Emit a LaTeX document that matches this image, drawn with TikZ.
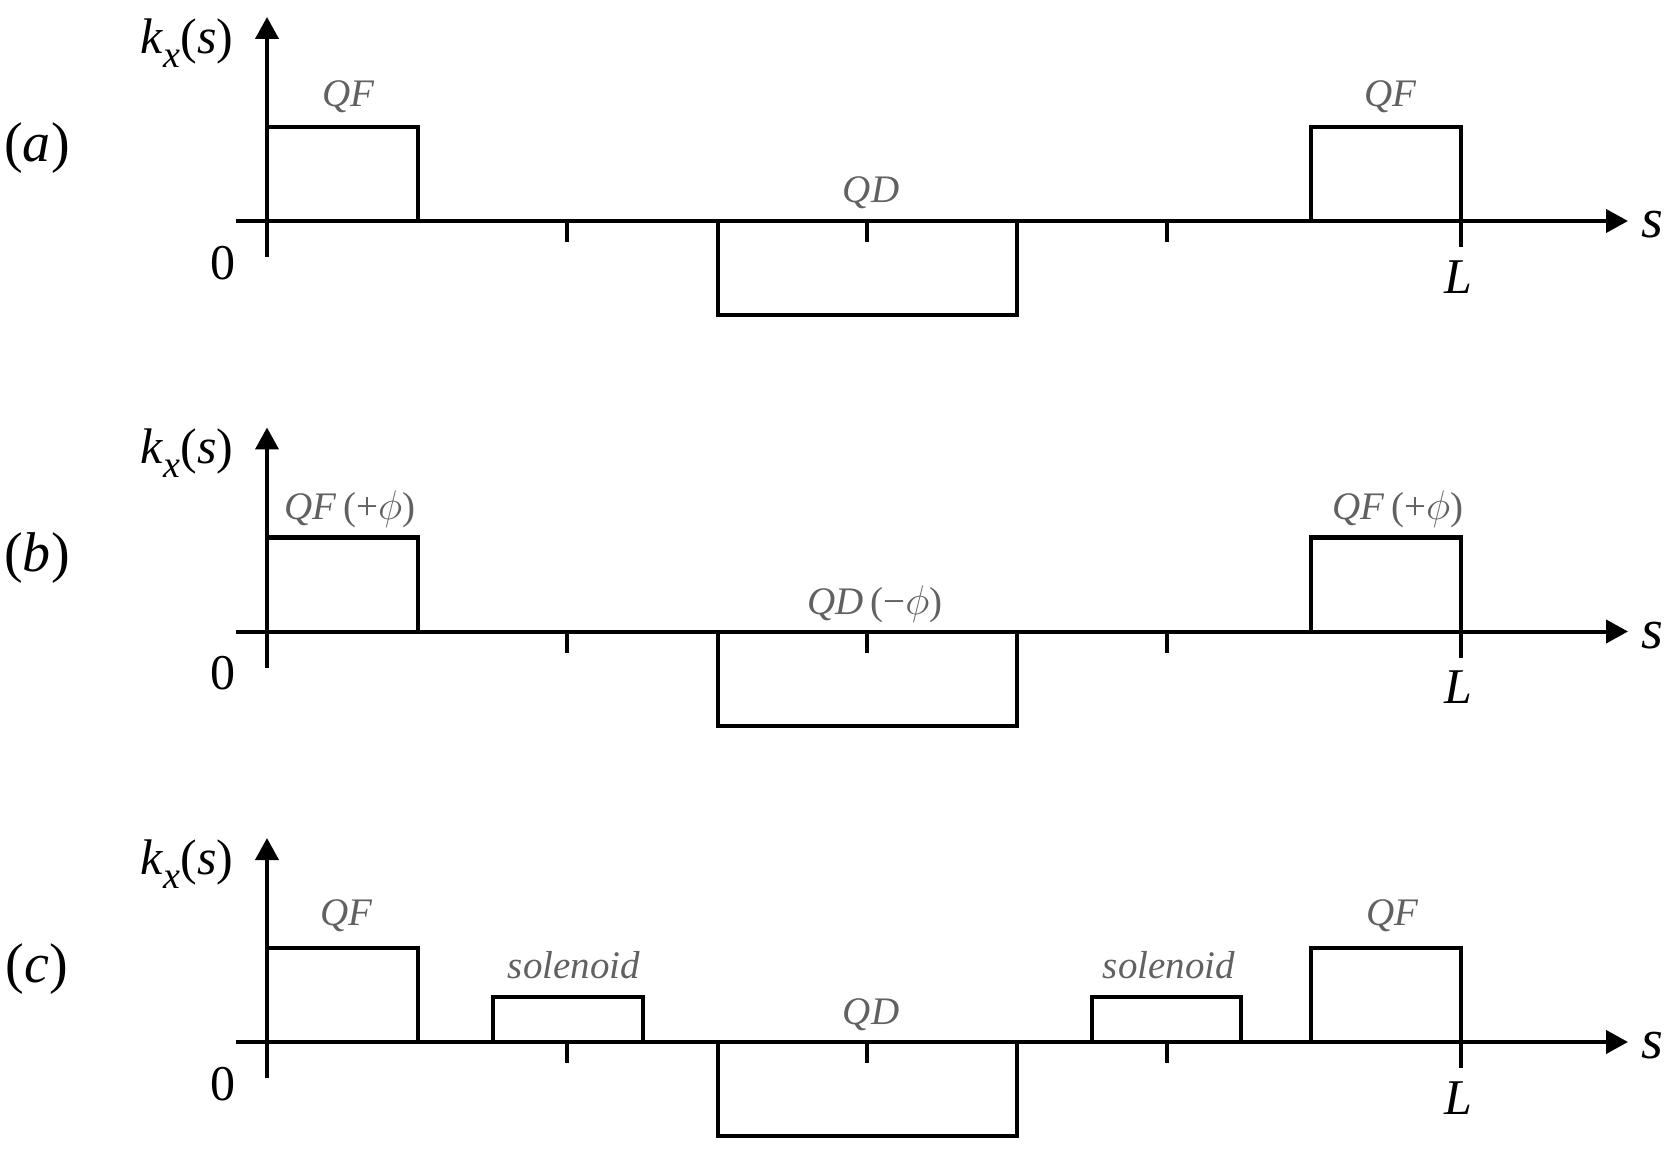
\documentclass[tikz,border=0pt]{standalone}
\usepackage{fontspec}
\setmainfont{Liberation Serif}
\usetikzlibrary{arrows.meta}
\definecolor{labgray}{gray}{0.38}
\tikzset{
  axisline/.style={line width=2pt, -{Triangle[length=11pt,width=11.5pt]}},
  magnet/.style={line width=2pt},
  tickline/.style={line width=2pt},
  biglab/.style={font=\fontsize{25}{30}\selectfont, inner sep=0pt},
  panlab/.style={font=\fontsize{28}{32}\selectfont, inner sep=0pt},
  maglab/.style={font=\fontsize{19.5}{23}\selectfont\itshape, text=labgray, inner sep=0pt},
}
\newcommand{\kxs}{\textit{k}\raisebox{-0.28em}{\fontsize{19}{21}\selectfont\textit{x}}(\textit{s})}
\newcommand{\basepanel}[1]{%
  \draw[axisline] (236,0) -- (1628,0);
  \draw[axisline] (267,36) -- (267,-204);
  \draw[tickline] (567,0) -- (567,21);
  \draw[tickline] (867,0) -- (867,21);
  \draw[tickline] (1167,0) -- (1167,21);
  \draw[tickline] (1461,0) -- (1461,26);
  \draw[magnet] (267,-94) -- (418,-94) -- (418,0);
  \draw[magnet] (718,0) -- (718,94) -- (1017,94) -- (1017,0);
  \draw[magnet] (1311,0) -- (1311,-94) -- (1461,-94) -- (1461,0);
  \node[panlab] (pl#1) at (37,-73) {(\textit{#1})};
  \node[biglab] (ky#1) at (187,-178) {\kxs};
  \node[biglab] (zero#1) at (223,42) {0};
  \node[panlab] (sx#1) at (1652,4) {\textit{s}};
  \node[biglab] (ell#1) at (1458,56) {\textit{L}};
}
\begin{document}
\begin{tikzpicture}[x=0.5pt,y=-0.5pt]
  \useasboundingbox (0,0) rectangle (1680,1154);
  % panel (a)
  \begin{scope}[shift={(0,221)}]
    \basepanel{a}
    \node[maglab] (qfla) at (348,-124) {QF};
    \node[maglab] (qfra) at (1390,-124) {QF};
    \node[maglab] (qda) at (871,-28) {QD};
  \end{scope}
  % panel (b)
  \begin{scope}[shift={(0,631.5)}]
    \basepanel{b}
    \node[maglab] (qflb) at (350,-122) {QF\,{\upshape(+$\phi$)}};
    \node[maglab] (qfrb) at (1398,-122) {QF\,{\upshape(+$\phi$)}};
    \node[maglab] (qdb) at (875,-27) {QD\,{\upshape(−$\phi$)}};
  \end{scope}
  % panel (c)
  \begin{scope}[shift={(0,1042)}]
    \basepanel{c}
    \draw[magnet] (493,0) -- (493,-45) -- (643,-45) -- (643,0);
    \draw[magnet] (1092,0) -- (1092,-45) -- (1241,-45) -- (1241,0);
    \node[maglab] (qflc) at (346,-126) {QF};
    \node[maglab] (qfrc) at (1392,-126) {QF};
    \node[maglab] (sol1) at (574,-77) {solenoid};
    \node[maglab] (sol2) at (1169,-77) {solenoid};
    \node[maglab] (qdc) at (871,-27) {QD};
  \end{scope}
\end{tikzpicture}
\end{document}
